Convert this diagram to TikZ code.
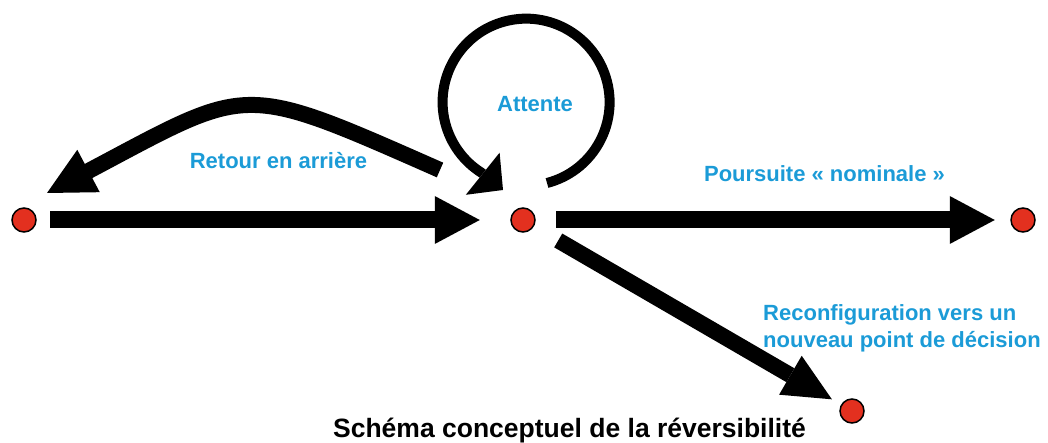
\documentclass[tikz,border=0pt]{standalone}
\usepackage{fontspec}
\setmainfont{Liberation Sans}
\usetikzlibrary{arrows.meta}
\definecolor{lblue}{RGB}{27,155,215}
\definecolor{dotred}{RGB}{227,48,31}
\begin{document}
\begin{tikzpicture}[x=1pt,y=-1pt,
  dot/.style={circle,draw=black,line width=1.5pt,fill=dotred,minimum size=24pt,inner sep=0pt},
  lbl/.style={text=lblue,font=\fontsize{22}{27}\selectfont\bfseries,inner sep=0pt},
  fat/.style={line width=17pt,-{Triangle[length=45pt,width=48pt,line width=0pt]}},
  diagarr/.style={line width=16pt,-{Triangle[length=48pt,width=45pt,line width=0pt]}},
  backarr/.style={line width=16pt,line join=round,-{Triangle[length=47pt,width=48pt,line width=0pt]}},
  looparr/.style={line width=10pt,line join=round,-{Triangle[length=26pt,width=54pt,line width=0pt]}}
]
\useasboundingbox (0,0) rectangle (1048,443);

% points de decision
\node[dot] (L) at (24,220) {};
\node[dot] (M) at (523,220) {};
\node[dot] (R) at (1023,220) {};
\node[dot] (B) at (852,411) {};

% fleches droites
\draw[fat,shorten <=13.5pt,shorten >=30.5pt] (L) -- (M);
\draw[fat,shorten <=20.5pt,shorten >=15.5pt] (M) -- (R);
\draw[diagarr,shorten <=28pt,shorten >=10.5pt] (M) -- (B);

% retour en arriere
\draw[backarr] ([shift={(-83,-50)}]M.center) .. controls (239.2,81.5) and (251.2,84.7) .. ([shift={(64.5,-49)}]L.center) -- ([shift={(23,-27)}]L.center);

% attente (boucle)
\draw[looparr] ([shift={(24,-37)}]M.center) arc[start angle=75.5,end angle=-237.7,radius=83.5] -- ([shift={(-20,-30)}]M.center);

% textes
\node[lbl,anchor=base] (retour) at (278.5,169) {Retour en arrière};
\node[lbl,anchor=base] (attente) at (535,112) {Attente};
\node[lbl,anchor=base] (poursuite) at (824.5,182) {Poursuite «~nominale~»};
\node[lbl,anchor=north west,align=left] (reconf) at (763,304) {Reconfiguration vers un\\nouveau point de décision};
\node[font=\fontsize{26.5}{32}\selectfont\bfseries,anchor=base,inner sep=0pt] (titre) at (569.5,437) {Schéma conceptuel de la réversibilité};
\end{tikzpicture}
\end{document}
